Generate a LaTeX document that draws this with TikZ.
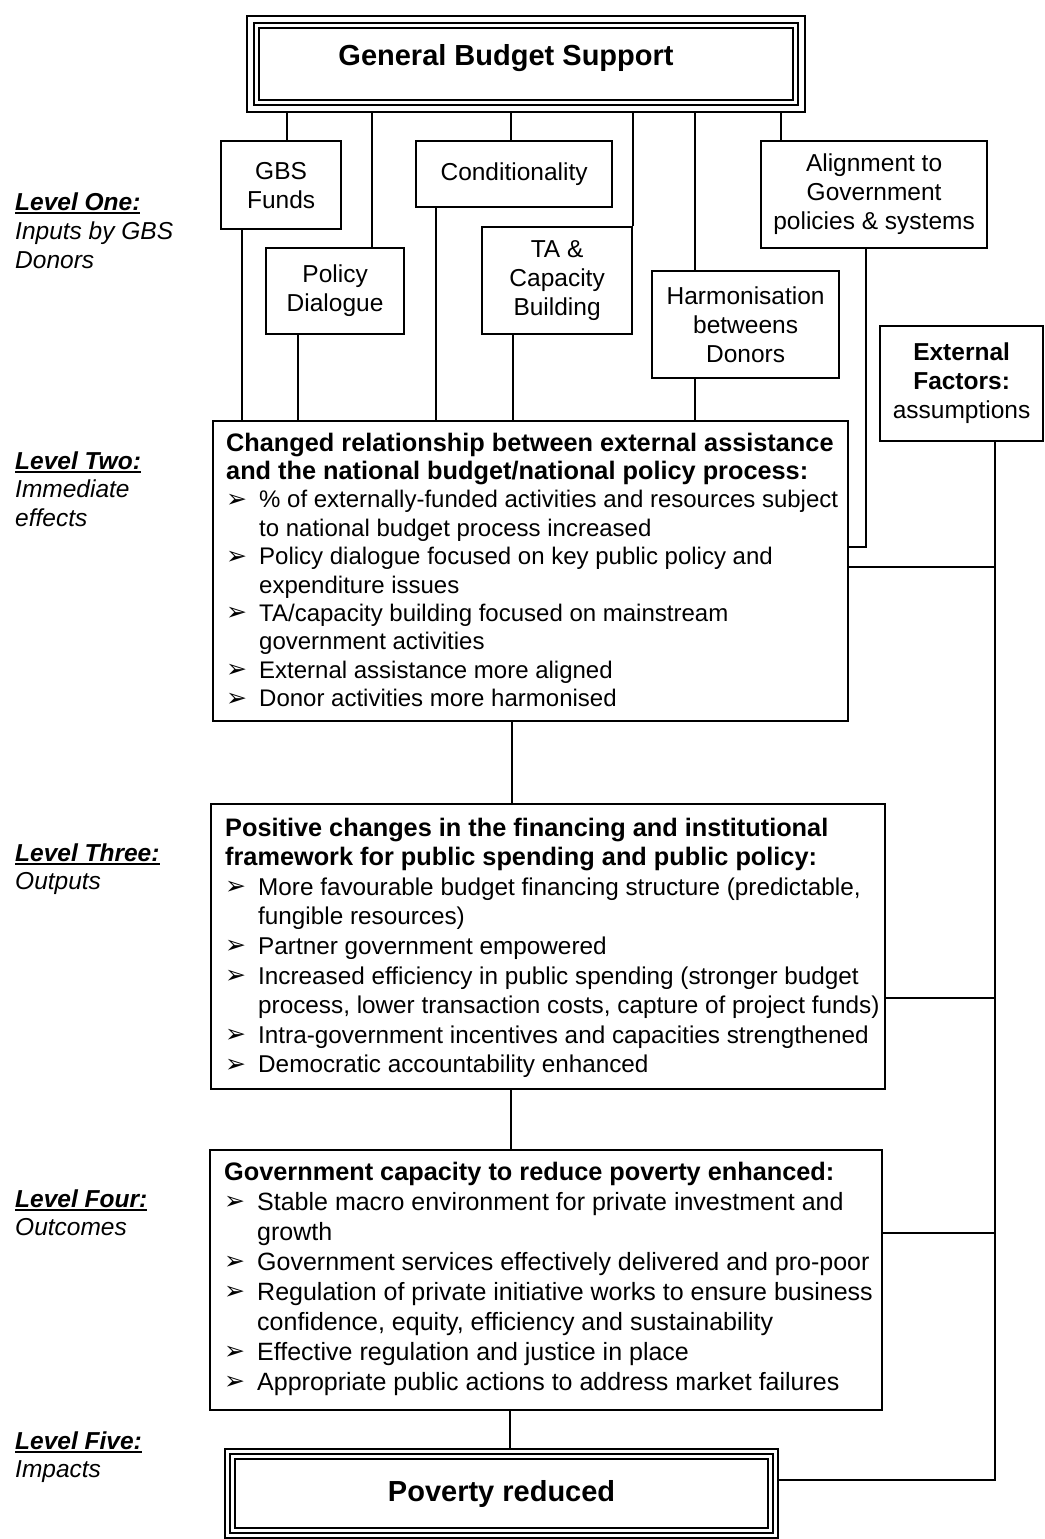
\documentclass[tikz,border=0pt]{standalone}
\usepackage{fontspec}
\setmainfont{Liberation Sans}
\newfontfamily\dingfont{DejaVu Sans}
\newcommand{\bl}{\makebox[33pt][l]{\raisebox{0.5pt}{\dingfont\fontsize{25}{25}\selectfont ➢}}}
\newcommand{\ind}{\hspace*{33pt}}
\newcommand{\hd}[1]{{\fontsize{25.3}{25}\selectfont\bfseries #1}}
\newcommand{\lvl}[1]{\leavevmode\setbox0\hbox{\bfseries\itshape #1}\rlap{\rule[-3.5pt]{\wd0}{1.8pt}}\box0}
\begin{document}
\begin{tikzpicture}[x=1pt,y=-1pt,
  box/.style={draw, line width=2.2pt, inner sep=0pt, anchor=north west},
  lbl/.style={align=center, inner sep=0pt, font=\fontsize{24.5}{29}\selectfont},
  txt/.style={inner sep=0pt, anchor=base west},
  conn/.style={line width=2pt},
  frame/.style={line width=1.8pt}]
\useasboundingbox (0,0) rectangle (1044,1539);
\fill[white] (0,0) rectangle (1044,1539);

% ---------- top box
\node[box, minimum width=558pt, minimum height=96pt] (gbs) at (246,15) {};
\draw[frame] ([shift={(8pt,-8pt)}]gbs.north west) rectangle ([shift={(-8pt,8pt)}]gbs.south east);
\draw[frame] ([shift={(13pt,-13pt)}]gbs.north west) rectangle ([shift={(-13pt,13pt)}]gbs.south east);
\node[lbl, font=\bfseries\fontsize{29}{32}\selectfont] (gbst) at (506,58) {General Budget Support};

% ---------- level one boxes
\node[box, lbl, minimum width=120pt, minimum height=88pt] (funds) at (220,140) {GBS\\Funds};
\node[box, lbl, minimum width=196pt, minimum height=66pt] (cond) at (415,140) {Conditionality};
\node[box, lbl, minimum width=226pt, minimum height=107pt] (align) at (760,140) {Alignment to\\Government\\policies \& systems};
\node[box, lbl, minimum width=138pt, minimum height=86pt] (pd) at (265,247) {Policy\\Dialogue};
\node[box, lbl, minimum width=150pt, minimum height=107pt] (ta) at (481,226) {TA \&\\Capacity\\Building};
\node[box, lbl, minimum width=187pt, minimum height=107pt] (harm) at (651,270) {Harmonisation\\betweens\\Donors};
\node[box, lbl, minimum width=163pt, minimum height=115pt] (ext) at (879,325) {\textbf{External}\\\textbf{Factors:}\\assumptions};

% ---------- level boxes
\node[box, minimum width=635pt, minimum height=300pt] (l2) at (212,420) {};
\node[txt] (l2t) at (226,451) {\parbox[t]{700pt}{\fontsize{24}{28.4}\selectfont\raggedright
\hd{Changed relationship between external assistance}\\
\hd{and the national budget/national policy process:}\\
\bl\% of externally-funded activities and resources subject\\
\ind to national budget process increased\\
\bl Policy dialogue focused on key public policy and\\
\ind expenditure issues\\
\bl TA/capacity building focused on mainstream\\
\ind government activities\\
\bl External assistance more aligned\\
\bl Donor activities more harmonised}};

\node[box, minimum width=674pt, minimum height=285pt] (l3) at (210,803) {};
\node[txt] (l3t) at (225,836) {\parbox[t]{700pt}{\fontsize{24.3}{29.6}\selectfont\raggedright
\hd{Positive changes in the financing and institutional}\\
\hd{framework for public spending and public policy:}\\
\bl More favourable budget financing structure (predictable,\\
\ind fungible resources)\\
\bl Partner government empowered\\
\bl Increased efficiency in public spending (stronger budget\\
\ind process, lower transaction costs, capture of project funds)\\
\bl Intra-government incentives and capacities strengthened\\
\bl Democratic accountability enhanced}};

\node[box, minimum width=672pt, minimum height=260pt] (l4) at (209,1149) {};
\node[txt] (l4t) at (224,1180) {\parbox[t]{700pt}{\fontsize{25}{30}\selectfont\raggedright
\hd{Government capacity to reduce poverty enhanced:}\\
\bl Stable macro environment for private investment and\\
\ind growth\\
\bl Government services effectively delivered and pro-poor\\
\bl Regulation of private initiative works to ensure business\\
\ind confidence, equity, efficiency and sustainability\\
\bl Effective regulation and justice in place\\
\bl Appropriate public actions to address market failures}};

% ---------- bottom box
\node[box, minimum width=553pt, minimum height=89pt, font=\bfseries\fontsize{29}{32}\selectfont] (pov) at (224,1448) {Poverty reduced};
\draw[frame] ([shift={(6pt,-6pt)}]pov.north west) rectangle ([shift={(-6pt,6pt)}]pov.south east);
\draw[frame] ([shift={(11pt,-11pt)}]pov.north west) rectangle ([shift={(-11pt,11pt)}]pov.south east);

% ---------- level labels
\node[txt] (lab1) at (15,210) {\parbox[t]{190pt}{\fontsize{24.5}{29}\selectfont\lvl{Level One:}\\\textit{Inputs by GBS}\\\textit{Donors}}};
\node[txt] (lab2) at (15,469) {\parbox[t]{190pt}{\fontsize{24.5}{28.5}\selectfont\lvl{Level Two:}\\\textit{Immediate}\\\textit{effects}}};
\node[txt] (lab3) at (15,861) {\parbox[t]{190pt}{\fontsize{24.5}{28.5}\selectfont\lvl{Level Three:}\\\textit{Outputs}}};
\node[txt] (lab4) at (15,1207) {\parbox[t]{190pt}{\fontsize{24.5}{28.5}\selectfont\lvl{Level Four:}\\\textit{Outcomes}}};
\node[txt] (lab5) at (15,1449) {\parbox[t]{190pt}{\fontsize{24.5}{28.5}\selectfont\lvl{Level Five:}\\\textit{Impacts}}};

% ---------- helper coordinates
\coordinate (x242) at (242,0);
\coordinate (x287) at (287,0);
\coordinate (x298) at (298,0);
\coordinate (x372) at (372,0);
\coordinate (x436) at (436,0);
\coordinate (x510) at (510,0);
\coordinate (x511) at (511,0);
\coordinate (x512) at (512,0);
\coordinate (x513) at (513,0);
\coordinate (x695) at (695,0);
\coordinate (x781) at (781,0);
\coordinate (x866) at (866,0);
\coordinate (x995) at (995,0);
\coordinate (y547) at (0,547);
\coordinate (y567) at (0,567);
\coordinate (y998) at (0,998);
\coordinate (y1233) at (0,1233);
\coordinate (y1480) at (0,1480);

% ---------- connectors
\draw[conn] (gbs.south -| x287) -- (funds.north -| x287);
\draw[conn] (gbs.south -| x372) -- (pd.north -| x372);
\draw[conn] (gbs.south -| x511) -- (cond.north -| x511);
\draw[conn] (gbs.south -| ta.north east) -- (ta.north east);
\draw[conn] (gbs.south -| x695) -- (harm.north -| x695);
\draw[conn] (gbs.south -| x781) -- (align.north -| x781);
\draw[conn] (funds.south -| x242) -- (l2.north -| x242);
\draw[conn] (pd.south -| x298) -- (l2.north -| x298);
\draw[conn] (cond.south -| x436) -- (l2.north -| x436);
\draw[conn] (ta.south -| x513) -- (l2.north -| x513);
\draw[conn] (harm.south -| x695) -- (l2.north -| x695);
\draw[conn] (align.south -| x866) |- (l2.east |- y547);
\draw[conn] (ext.south -| x995) |- (pov.east |- y1480);
\draw[conn] (l2.east |- y567) -- (x995 |- y567);
\draw[conn] (l3.east |- y998) -- (x995 |- y998);
\draw[conn] (l4.east |- y1233) -- (x995 |- y1233);
\draw[conn] (l2.south -| x512) -- (l3.north -| x512);
\draw[conn] (l3.south -| x511) -- (l4.north -| x511);
\draw[conn] (l4.south -| x510) -- (pov.north -| x510);
\end{tikzpicture}
\end{document}
